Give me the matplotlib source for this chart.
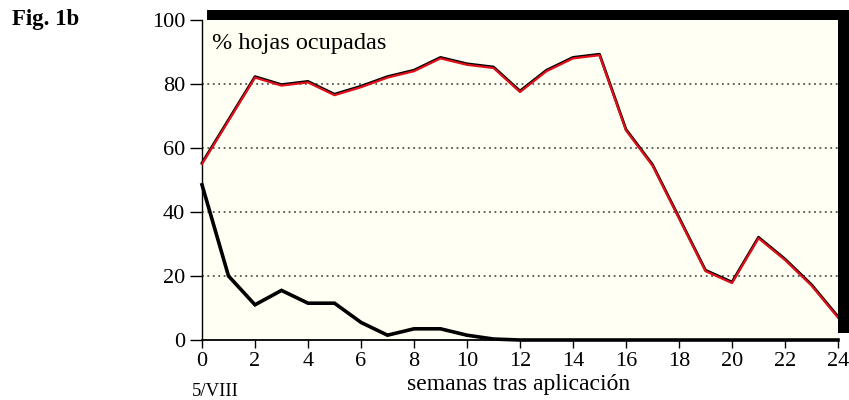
import matplotlib
matplotlib.use("Agg")
import matplotlib.pyplot as plt
from matplotlib.patches import Rectangle
import matplotlib.transforms as mtransforms

weeks = list(range(0, 25))
ocupadas_red = [55, 68.5, 82, 79.5, 80.5, 76.5, 79, 82, 84, 88, 86, 85, 77.5,
                84, 88, 89, 65.5, 54.5, 38, 21.5, 17.8, 31.8, 25, 17, 7]
black_series = [48.5, 20, 11, 15.5, 11.5, 11.5, 5.5, 1.5, 3.5, 3.5, 1.5, 0.3, 0,
                0, 0, 0, 0, 0, 0, 0, 0, 0, 0, 0, 0]
xticks = list(range(0, 25, 2))
yticks = [0, 20, 40, 60, 80, 100]

plt.rcParams['font.family'] = ['Liberation Serif', 'DejaVu Serif']

fig = plt.figure(figsize=(8.49, 4.0), dpi=100)
fig.patch.set_facecolor('white')
ax = fig.add_axes([202/849, 60/400, 636/849, 320/400])
ax.set_facecolor('#fffff3')

ax.set_xlim(0, 24)
ax.set_ylim(0, 100)

for y in [20, 40, 60, 80]:
    ax.axhline(y, color='#555555', lw=1.3, ls=(0, (1, 2)), zorder=1)

ax.plot(weeks, black_series, color='black', lw=2.6, solid_joinstyle='miter', zorder=3, clip_on=False)
shadow = mtransforms.offset_copy(ax.transData, fig=fig, x=0, y=1.0, units='dots')
ax.plot(weeks, ocupadas_red, color='black', lw=2.0, transform=shadow, zorder=3, clip_on=False)
ax.plot(weeks, ocupadas_red, color='#e0101a', lw=1.6, zorder=4, clip_on=False)

for s in ['top', 'right']:
    ax.spines[s].set_visible(False)
ax.spines['left'].set_linewidth(1.0)
ax.spines['bottom'].set_linewidth(1.3)

ax.set_xticks(xticks)
ax.set_yticks(yticks)
ax.tick_params(axis='both', direction='out', labelsize=16, colors='black')
ax.tick_params(axis='y', length=9, width=1.0, pad=3)
ax.tick_params(axis='x', length=6, width=1.0, pad=3)

# thick shadow frame
ax.add_patch(Rectangle((5/636, 1.0), 12/636 + 1.0 - 5/636, 10/320, transform=ax.transAxes,
                       facecolor='black', edgecolor='none', clip_on=False, zorder=5))
ax.add_patch(Rectangle((1.0, 7/320), 11/636, 1.0 - 7/320 + 10/320, transform=ax.transAxes,
                       facecolor='black', edgecolor='none', clip_on=False, zorder=5))

ax.text(0.016, 0.925, '% hojas ocupadas', transform=ax.transAxes, fontsize=17.5,
        ha='left', va='center')

fig.text(12/849, 1 - 20/400, 'Fig. 1b', fontsize=16.5, fontweight='bold', ha='left', va='center')
fig.text(215/849, 1 - 396/400, '5/VIII', fontsize=13.5, ha='center', va='baseline')
fig.text(519/849, 1 - 390/400, 'semanas tras aplicación', fontsize=17, ha='center', va='baseline')

fig.savefig('out.png', dpi=100)
